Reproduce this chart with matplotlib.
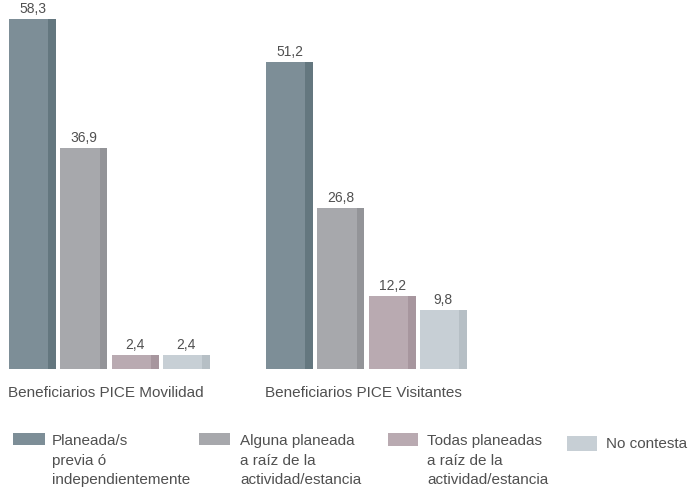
import matplotlib.pyplot as plt
from matplotlib.patches import Rectangle

plt.rcParams["font.family"] = ["Liberation Sans", "DejaVu Sans"]

groups = ["Beneficiarios PICE Movilidad", "Beneficiarios PICE Visitantes"]
series = [
    "Planeada/s\nprevia ó\nindependientemente",
    "Alguna planeada\na raíz de la\nactividad/estancia",
    "Todas planeadas\na raíz de la\nactividad/estancia",
    "No contesta",
]
values = [
    [58.3, 51.2],
    [36.9, 26.8],
    [2.4, 12.2],
    [2.4, 9.8],
]
face_colors = ["#7d8e97", "#a7a8ac", "#b9aab1", "#c7cfd5"]
edge_colors = ["#64777f", "#939498", "#a7969e", "#b6bfc5"]

W, H = 691, 490
TEXT = "#505050"

fig = plt.figure(figsize=(W / 100, H / 100), dpi=100)
# axes in pixel-ish units: baseline 121 px from bottom
ax = fig.add_axes([0, 121 / H, 1, 1 - 121 / H])
ax.set_xlim(0, W)
ax.set_ylim(0, 369 / 6.0)
ax.axis("off")

group_start = [9, 266]
step = 51.3
bar_w = 47
strip_w = 7.5

for i, name in enumerate(series):
    for g in range(len(groups)):
        x = group_start[g] + i * step
        v = values[i][g]
        ax.bar(x, v, width=bar_w - strip_w, align="edge", color=face_colors[i], linewidth=0)
        ax.bar(x + bar_w - strip_w, v, width=strip_w, align="edge", color=edge_colors[i], linewidth=0)
        ax.text(x + bar_w / 2, v + 0.5, f"{v:.1f}".replace(".", ","),
                ha="center", va="bottom", fontsize=10, color=TEXT)

for g, label in enumerate(groups):
    fig.text((group_start[g] - 1) / W, 1 - 393 / H, label, ha="left", va="center",
             fontsize=11, color=TEXT)

# legend
leg_sq = [(13, 433, 32, 12), (199, 433, 31, 12), (388, 433, 30, 13), (567, 436, 30, 15)]
leg_tx = [52, 240, 427, 606]
for i, name in enumerate(series):
    sx, sy, sw, sh = leg_sq[i]
    fig.add_artist(Rectangle((sx / W, 1 - (sy + sh) / H), sw / W, sh / H,
                             transform=fig.transFigure, color=face_colors[i], linewidth=0))
    ty = 441 if i < 3 else 444
    fig.text(leg_tx[i] / W, 1 - (ty - 7) / H, name, ha="left", va="top",
             fontsize=11, color=TEXT, linespacing=1.52)

fig.savefig("out.png", dpi=100, facecolor="white")
